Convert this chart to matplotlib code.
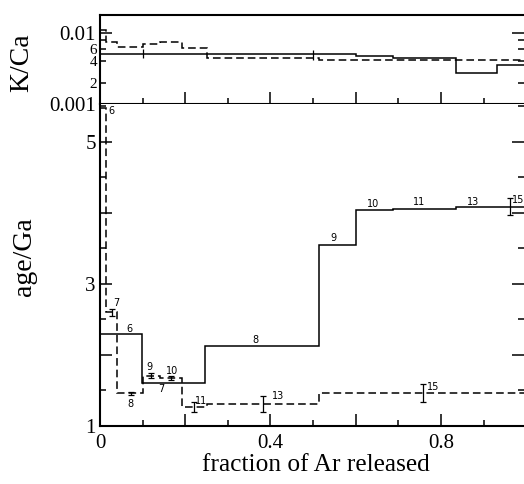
import numpy as np
import matplotlib
matplotlib.use("Agg")
import matplotlib.pyplot as plt

# ======================================================
# Data
# ======================================================

# solid sample: step edges (fraction of Ar released), age and K/Ca per step
solid_edges = [0, 0.098, 0.247, 0.513, 0.601, 0.688, 0.836, 0.932, 0.995]
solid_age = [2.30, 1.61, 2.13, 3.55, 4.04, 4.06, 4.08, 4.09]
solid_kca = [5.1e-3, 5.1e-3, 5.0e-3, 5.0e-3, 4.8e-3, 4.5e-3, 2.7e-3, 3.6e-3]
solid_steps = ["6", "7", "8", "9", "10", "11", "13", "15"]

# dashed sample
dash_edges = [0, 0.013, 0.041, 0.101, 0.141, 0.192, 0.25, 0.513, 0.995]
dash_age = [5.48, 2.60, 1.46, 1.71, 1.68, 1.27, 1.31, 1.46]
dash_kca = [0.0111, 0.0076, 0.0063, 0.0070, 0.0075, 0.0061, 0.0045, 0.0042]
dash_steps = ["6", "7", "8", "9", "10", "11", "13", "15"]

# error bars on the age spectra
dash_err_x = [0.028, 0.072, 0.119, 0.167, 0.221, 0.382, 0.758]
dash_err_y = [2.60, 1.46, 1.71, 1.68, 1.27, 1.31, 1.46]
dash_err = [0.05, 0.02, 0.03, 0.03, 0.07, 0.11, 0.125]
solid_err_x = [0.962]
solid_err_y = [4.09]
solid_err = [0.115]

# error bars on K/Ca (solid)
kca_err_x = [0.1, 0.5]
kca_err_y = [5.1e-3, 5.0e-3]
kca_err_lo = [0.6e-3, 0.8e-3]
kca_err_hi = [0.9e-3, 0.8e-3]

# ======================================================
# Label layout (x of each step number, vertical offset in points)
# ======================================================

solid_lab_x = [0.070, 0.143, 0.364, 0.547, 0.640, 0.749, 0.876, 0.982]
solid_lab_dy = [3.5, -4.5, 4.5, 5, 4.5, 4.5, 4, 5]
dash_lab_x = [0.026, 0.039, 0.072, 0.117, 0.168, 0.237, 0.417, 0.782]
dash_lab_dy = [-2.5, 6.5, -7.5, 6.5, 4.5, 4.5, 6, 4.5]

# ======================================================
# Figure
# ======================================================

serif = "Liberation Serif"
plt.rcParams["font.family"] = serif

fig = plt.figure(figsize=(5.24, 4.84), dpi=100)

L = 100 / 524
W = 424 / 524
ax1 = fig.add_axes([L, 1 - 104 / 484, W, 89 / 484])
ax2 = fig.add_axes([L, 1 - 426 / 484, W, 322 / 484], sharex=ax1)

dash_style = (0, (5, 2.6))
lw = 1.1

# ---- K/Ca panel
ax1.stairs(solid_kca, solid_edges, baseline=None, color="black", lw=lw)
ax1.stairs(dash_kca, dash_edges, baseline=None, color="black", lw=lw,
           linestyle=dash_style)
ax1.errorbar(kca_err_x, kca_err_y, yerr=[kca_err_lo, kca_err_hi],
             fmt="none", ecolor="black", elinewidth=0.9, capsize=0)

ax1.set_yscale("log")
ax1.set_ylim(0.001, 0.018)
ax1.set_yticks([0.001, 0.01], ["0.001", "0.01"])
ax1.set_yticks([0.002, 0.004, 0.006, 0.008], ["2", "4", "6", ""], minor=True)

# ---- age panel
ax2.stairs(solid_age, solid_edges, baseline=None, color="black", lw=lw)
ax2.stairs(dash_age, dash_edges, baseline=None, color="black", lw=lw,
           linestyle=dash_style)
ax2.errorbar(dash_err_x, dash_err_y, yerr=dash_err, fmt="none",
             ecolor="black", elinewidth=0.9, capsize=2.5, capthick=0.9)
ax2.errorbar(solid_err_x, solid_err_y, yerr=solid_err, fmt="none",
             ecolor="black", elinewidth=0.9, capsize=2.5, capthick=0.9)

for lab, x, dy, v in zip(solid_steps, solid_lab_x, solid_lab_dy, solid_age):
    ax2.annotate(lab, (x, v), xytext=(0, dy), textcoords="offset points",
                 ha="center", va="center", fontsize=7, family="DejaVu Sans")

for lab, x, dy, v in zip(dash_steps, dash_lab_x, dash_lab_dy, dash_age):
    ax2.annotate(lab, (x, v), xytext=(0, dy), textcoords="offset points",
                 ha="center", va="center", fontsize=7, family="DejaVu Sans")

ax2.set_ylim(1, 5.535)
ax2.set_yticks([1, 2, 3, 4, 5], ["1", "", "3", "", "5"])
ax2.set_yticks([1.5, 2.5, 3.5, 4.5, 5.5], minor=True)

ax2.set_xlim(0, 0.995)
ax2.set_xticks([0, 0.2, 0.4, 0.6, 0.8], ["0", "", "0.4", "", "0.8"])
ax2.set_xticks([0.1, 0.3, 0.5, 0.7, 0.9], minor=True)
ax2.set_xlabel("fraction of Ar released", fontsize=18.3)

# axis titles on the left, placed where the reference has them
fig.text(22 / 524, 1 - 63 / 484, "K/Ca", rotation=90, fontsize=20,
         ha="center", va="center")
fig.text(25 / 524, 1 - 257 / 484, "age/Ga", rotation=90, fontsize=20,
         ha="center", va="center")

# ---- axes styling
for ax in (ax1, ax2):
    for s in ax.spines.values():
        s.set_linewidth(1.5)
    ax.spines["right"].set_visible(False)
    ax.tick_params(which="both", direction="in", right=True, top=False,
                   width=1.1, labelsize=15, pad=3)
    ax.tick_params(which="major", length=8.5)
    ax.tick_params(which="minor", length=4.5)

ax1.tick_params(axis="x", which="both", labelbottom=False)
ax1.tick_params(axis="y", which="minor", labelsize=11, pad=2)
ax2.tick_params(axis="x", pad=6)
ax2.spines["top"].set_visible(False)

# nudge the x title to the reference position
ax2.xaxis.set_label_coords(0.51, -0.086)

fig.savefig("out.png", dpi=100)
